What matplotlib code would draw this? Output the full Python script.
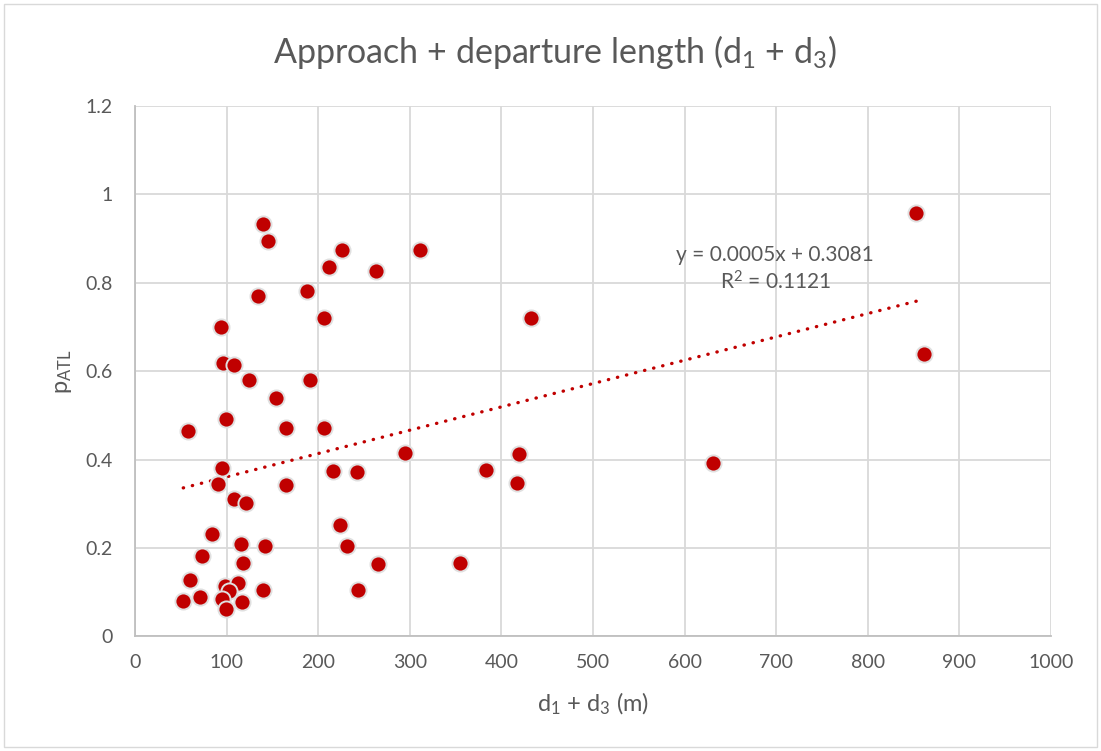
import numpy as np
import matplotlib
matplotlib.use("Agg")
import matplotlib.pyplot as plt
from matplotlib.patches import Rectangle

plt.rcParams['font.family'] = ['Lato', 'DejaVu Sans']
plt.rcParams['mathtext.default'] = 'regular'

# d1 + d3 (m) and p_ATL
d_len = [140.0, 145.4, 133.9, 93.5, 96.0, 107.7, 124.7, 153.5, 57.8, 98.9,
         164.4, 94.6, 90.9, 108.3, 121.1, 83.7, 115.3, 141.8, 73.4, 117.5,
         60.0, 98.5, 112.7, 102.5, 71.2, 94.6, 139.6, 52.7, 116.4, 99.3,
         164.4, 225.5, 310.6, 211.6, 262.6, 187.3, 206.5, 190.6, 206.5, 294.9,
         216.3, 242.9, 223.6, 231.6, 265.8, 354.5, 244.0, 432.7, 419.2, 382.9,
         417.5, 630.9, 852.3, 861.0]
p_atl = [0.934, 0.894, 0.771, 0.699, 0.619, 0.613, 0.580, 0.539, 0.465, 0.492,
         0.471, 0.382, 0.344, 0.310, 0.301, 0.232, 0.210, 0.205, 0.181, 0.167,
         0.128, 0.115, 0.120, 0.102, 0.090, 0.084, 0.104, 0.080, 0.077, 0.061,
         0.343, 0.875, 0.875, 0.836, 0.827, 0.781, 0.721, 0.580, 0.471, 0.414,
         0.375, 0.371, 0.253, 0.204, 0.163, 0.166, 0.106, 0.720, 0.413, 0.377,
         0.347, 0.392, 0.957, 0.638]

x_ticks = [0, 100, 200, 300, 400, 500, 600, 700, 800, 900, 1000]
y_ticks = [0, 0.2, 0.4, 0.6, 0.8, 1, 1.2]
y_tick_labels = ['0', '0.2', '0.4', '0.6', '0.8', '1', '1.2']

red = '#C00000'
grey_txt = '#595959'
grid_c = '#D9D9D9'

x = np.array(d_len)
y = np.array(p_atl)

fig = plt.figure(figsize=(11.01, 7.51), dpi=100)
ax = fig.add_axes([0.1226, 0.1526, 0.8320, 0.7063])

ax.set_xlim(0, 1000)
ax.set_ylim(0, 1.2)
ax.set_xticks(x_ticks)
ax.set_yticks(y_ticks)
ax.set_yticklabels(y_tick_labels)
ax.grid(True, color=grid_c, linewidth=1.3)
ax.set_axisbelow(True)
for s in ['top', 'right']:
    ax.spines[s].set_visible(False)
for s in ['left', 'bottom']:
    ax.spines[s].set_color('#BFBFBF')
    ax.spines[s].set_linewidth(1.3)
ax.tick_params(length=0, labelsize=14, colors=grey_txt)
ax.tick_params(axis='x', pad=13)
ax.tick_params(axis='y', pad=16)

# linear trendline
k, b = np.polyfit(x, y, 1)
xs = np.array([x.min(), x.max()])
ax.plot(xs, k * xs + b, color=red, linewidth=2.4,
        linestyle=(0, (0.1, 2.7)), dash_capstyle='round', zorder=2)

ax.scatter(x, y, s=135, color=red, edgecolors='#E0E0E0', linewidths=1.4, zorder=3)

ax.text(0.699, 0.692, 'y = 0.0005x + 0.3081\nR$^2$ = 0.1121', transform=ax.transAxes,
        ha='center', va='center', fontsize=15, color=grey_txt, linespacing=1.3)

ax.set_xlabel('d$_1$ + d$_3$ (m)', fontsize=17, color=grey_txt, labelpad=14)
ax.set_ylabel('p$_{ATL}$', fontsize=17, color=grey_txt, labelpad=8)
fig.text(0.504, 0.931, 'Approach + departure length (d$_1$ + d$_3$)', fontsize=24.5,
         color=grey_txt, ha='center', va='center')

fig.patches.append(Rectangle((0.004, 0.005), 0.992, 0.99, transform=fig.transFigure,
                             fill=False, edgecolor='#D9D9D9', linewidth=1))

fig.savefig('out.png', dpi=100)
